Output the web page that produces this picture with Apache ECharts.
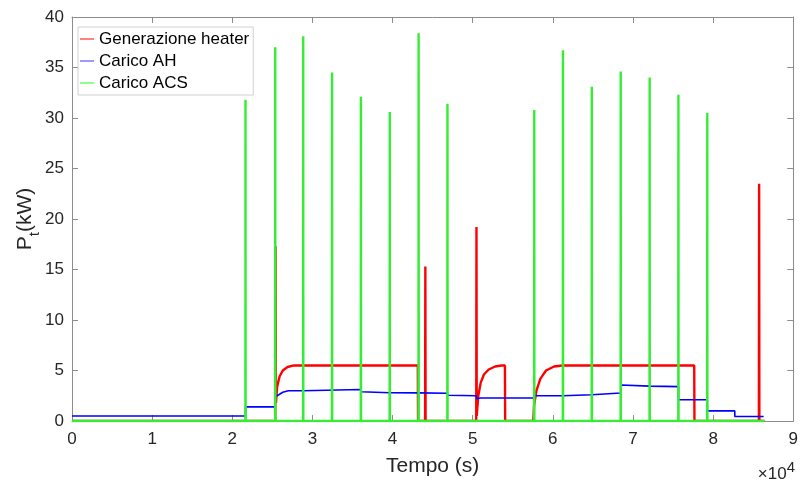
<!DOCTYPE html>
<html><head><meta charset="utf-8">
<script src="https://cdn.jsdelivr.net/npm/echarts@6/dist/echarts.min.js"></script>
<style>html,body{margin:0;padding:0;background:#fff}#c{width:801px;height:482px}</style>
</head><body><div id="c"></div>
<script>
// x in seconds (axis labels shown in units of 10^4 s)
const xTickLabels = ['0','1','2','3','4','5','6','7','8','9'];
const yTickLabels = ['0','5','10','15','20','25','30','35','40'];

// Generazione heater
const heaterT = [0, 25360, 25400, 25450, 25600, 25900, 26300, 26900, 27700, 43150, 43180,
  44060, 44090, 44120, 50440, 50470, 50500, 50700, 51000, 51400, 52000, 52800, 53600, 54020, 54050,
  57560, 57650, 57950, 58450, 59150, 60150, 61200, 77640, 77670, 85710, 85740, 85770, 86400];
const heaterP = [0, 0, 17.3, 1.8, 3.4, 4.4, 5.0, 5.35, 5.5, 5.5, 0,
  0, 15.3, 0, 0, 19.2, 0.5, 2.5, 3.8, 4.6, 5.1, 5.4, 5.5, 5.5, 0,
  0, 1.5, 3.0, 4.2, 5.0, 5.4, 5.5, 5.5, 0, 0, 23.5, 0, 0];

// Carico AH
const ahT = [0, 21650, 21660, 25360, 25380, 25800, 26300, 27000, 28850, 28860, 36050, 36060,
  39650, 43250, 46850, 46860, 50470, 50480, 51000, 57680, 57690, 61260, 61270, 64860, 64870,
  68470, 68480, 72080, 75670, 75680, 79270, 79280, 82700, 82710, 86300];
const ahP = [0.5, 0.5, 1.4, 1.4, 2.4, 2.6, 2.85, 3.0, 3.0, 3.12, 3.12, 2.9,
  2.8, 2.78, 2.75, 2.55, 2.5, 2.2, 2.27, 2.27, 2.5, 2.5, 2.6, 2.6, 2.77,
  2.77, 3.56, 3.45, 3.4, 2.1, 2.1, 1.0, 1.0, 0.45, 0.45];

// Carico ACS (spike times and peaks, baseline zero)
const acsT = [21650, 25360, 28850, 32450, 36050, 39650, 43250, 46850, 57680, 61260, 64860, 68470, 72080, 75670, 79270];
const acsP = [31.8, 37.0, 38.1, 34.5, 32.1, 30.6, 38.4, 31.4, 30.8, 36.7, 33.1, 34.6, 34.0, 32.3, 30.5];
const acsEnd = 86400;

const heaterData = heaterT.map((t, i) => [t, heaterP[i]]);
const ahData = ahT.map((t, i) => [t, ahP[i]]);
const acsData = [[0, 0]];
acsT.forEach((t, i) => { acsData.push([t - 15, 0], [t, acsP[i]], [t + 15, 0]); });
acsData.push([acsEnd, 0]);

const FONT = 'Liberation Sans, Arial, Helvetica, sans-serif';
const TXT = '#262626';
const AX = '#8c8c8c';

const chart = echarts.init(document.getElementById('c'), null, {renderer: 'canvas'});
const baseX = {
  type: 'value', min: 0, max: 90000, interval: 10000,
  splitLine: {show: false},
  axisLine: {show: true, onZero: false, lineStyle: {color: AX, width: 1}},
  axisTick: {show: true, inside: true, length: 6, lineStyle: {color: AX}},
};
const baseY = {
  type: 'value', min: 0, max: 40, interval: 5,
  splitLine: {show: false},
  axisLine: {show: true, onZero: false, lineStyle: {color: AX, width: 1}},
  axisTick: {show: true, inside: true, length: 6, lineStyle: {color: AX}},
};
chart.setOption({
  animation: false,
  backgroundColor: '#fff',
  grid: {left: 72, right: 5, top: 17, bottom: 60, containLabel: false},
  xAxis: [
    Object.assign({}, baseX, {
      position: 'bottom',
      axisLabel: {show: true, margin: 10, color: TXT, fontSize: 17, fontFamily: FONT,
        formatter: v => xTickLabels[Math.round(v / 10000)]},
      name: 'Tempo (s)', nameLocation: 'middle', nameGap: 35, nameMoveOverlap: false,
      nameTextStyle: {color: TXT, fontSize: 21, fontFamily: FONT}
    }),
    Object.assign({}, baseX, {position: 'top', axisLabel: {show: false}})
  ],
  yAxis: [
    Object.assign({}, baseY, {
      position: 'left',
      axisLabel: {show: true, margin: 8, color: TXT, fontSize: 17, fontFamily: FONT,
        formatter: v => yTickLabels[Math.round(v / 5)]},
      name: '{a|P}{b|t}{a|(kW)}', nameLocation: 'middle', nameGap: 30, nameRotate: 90,
      nameMoveOverlap: false,
      nameTextStyle: {color: TXT, fontFamily: FONT,
        rich: {
          a: {fontSize: 21, fontFamily: FONT, color: TXT, lineHeight: 27, verticalAlign: 'top'},
          b: {fontSize: 15, fontFamily: FONT, color: TXT, lineHeight: 27, verticalAlign: 'bottom'}
        }}
    }),
    Object.assign({}, baseY, {position: 'right', axisLabel: {show: false}})
  ],
  legend: {
    show: true, orient: 'vertical', left: 78, top: 27,
    padding: [2, 4, 2, 2], itemGap: 2, itemWidth: 14, itemHeight: 1.5,
    backgroundColor: '#fff', borderColor: '#d0d0d0', borderWidth: 1,
    selectedMode: false, icon: 'rect',
    textStyle: {color: '#000', fontSize: 17, fontFamily: FONT, lineHeight: 20},
    data: ['Generazione heater', 'Carico AH', 'Carico ACS']
  },
  graphic: [{
    type: 'text', right: 6, top: 460,
    style: {
      text: '{a|×10}{b|4}', fill: TXT,
      rich: {
        a: {fontSize: 17, fontFamily: FONT, fill: TXT, lineHeight: 23, verticalAlign: 'bottom'},
        b: {fontSize: 15, fontFamily: FONT, fill: TXT, lineHeight: 23, verticalAlign: 'top'}
      }
    }
  }],
  series: [
    {name: 'Generazione heater', type: 'line', data: heaterData, showSymbol: false, symbol: 'none',
      color: '#ff0000', lineStyle: {color: '#ff0000', width: 2.4}, itemStyle: {color: '#ff5a5a'}},
    {name: 'Carico AH', type: 'line', data: ahData, showSymbol: false, symbol: 'none',
      color: '#0000ff', lineStyle: {color: '#0000ff', width: 1.6}, itemStyle: {color: '#7a7aff'}},
    {name: 'Carico ACS', type: 'line', data: acsData, showSymbol: false, symbol: 'none',
      color: '#00ff00', lineStyle: {color: '#33ee33', width: 2.4}, itemStyle: {color: '#66ff66'}}
  ]
});
</script>
</body></html>
